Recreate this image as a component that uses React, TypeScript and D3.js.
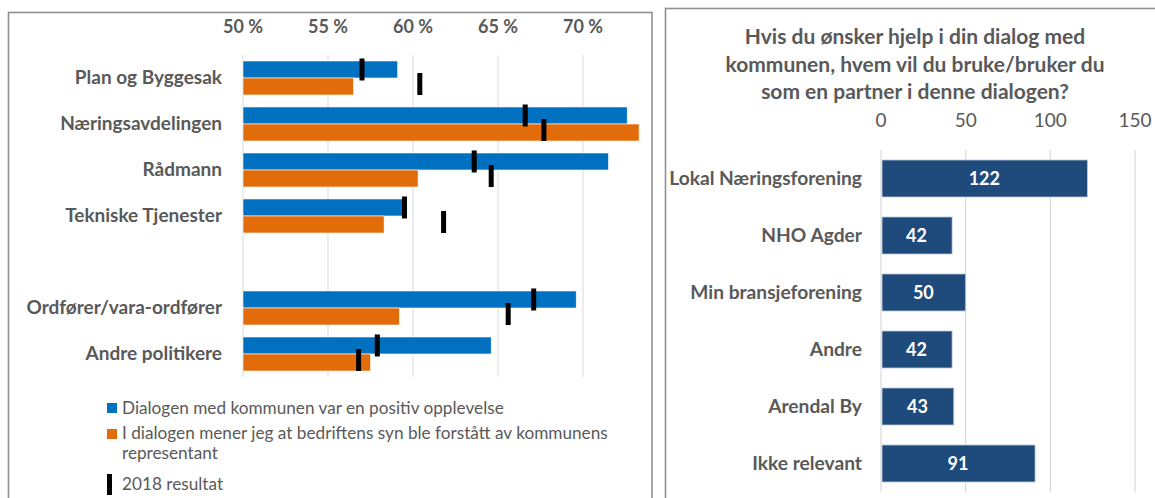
import React from "react";
import * as d3 from "d3";

// ---------- Left chart data ----------
const leftCategories = [
  "Plan og Byggesak",
  "Næringsavdelingen",
  "Rådmann",
  "Tekniske Tjenester",
  "",
  "Ordfører/vara-ordfører",
  "Andre politikere",
];
const positiveExperience = [0.591, 0.726, 0.715, 0.595, null, 0.696, 0.646];
const viewUnderstood = [0.565, 0.733, 0.603, 0.583, null, 0.592, 0.575];
const positive2018 = [0.570, 0.666, 0.636, 0.595, null, 0.671, 0.579];
const understood2018 = [0.604, 0.677, 0.646, 0.618, null, 0.656, 0.568];
const leftTicks = [0.5, 0.55, 0.6, 0.65, 0.7];
const legendLabels = [
  "Dialogen med kommunen var en positiv opplevelse",
  "I dialogen mener jeg at bedriftens syn ble forstått av kommunens",
  "representant",
  "2018 resultat",
];

// ---------- Right chart data ----------
const rightTitle = [
  "Hvis du ønsker hjelp i din dialog med",
  "kommunen, hvem vil du bruke/bruker du",
  "som en partner i denne dialogen?",
];
const rightCategories = [
  "Lokal Næringsforening",
  "NHO Agder",
  "Min bransjeforening",
  "Andre",
  "Arendal By",
  "Ikke relevant",
];
const rightValues = [122, 42, 50, 42, 43, 91];
const rightTicks = [0, 50, 100, 150];

const FONT = "Lato, 'Open Sans', sans-serif";
const TEXT = "#595959";
const GRID = "#d9d9d9";
const BLUE = "#0070C0";
const ORANGE = "#E36C0A";
const NAVY = "#1F4A7C";

export default function App() {
  // Left scales
  const xL = d3.scaleLinear().domain([0.5, 0.74]).range([243, 651]);
  const yL = d3
    .scaleBand<string>()
    .domain(leftCategories.map((c, i) => String(i)))
    .range([55, 377])
    .paddingInner(0.26)
    .paddingOuter(0.13);
  const bh = yL.bandwidth() / 2;

  // Right scales
  const xR = d3.scaleLinear().domain([0, 150]).range([881, 1135]);
  const yR = d3
    .scaleBand<string>()
    .domain(rightCategories)
    .range([150, 492])
    .paddingInner(0.35)
    .paddingOuter(0.175);

  const markerH = 22;
  const markerW = 5;
  const legendFs = 17.2;

  return (
    <svg
      width={1155}
      height={498}
      style={{ position: "absolute", left: 0, top: 0, background: "#fff" }}
      fontFamily={FONT}
    >
      {/* Panels */}
      <rect x={8.5} y={12.5} width={643.5} height={520} fill="#fff" stroke="#8f8f8f" strokeWidth={1.6} />
      <rect x={665.5} y={8.5} width={520} height={520} fill="#fff" stroke="#8f8f8f" strokeWidth={1.6} />

      {/* ---------- LEFT CHART ---------- */}
      {leftTicks.map((t) => (
        <g key={"lt" + t}>
          <line x1={xL(t)} x2={xL(t)} y1={55} y2={377} stroke={GRID} strokeWidth={1} />
          <text x={xL(t)} y={33} textAnchor="middle" fontSize={18} fontWeight="bold" fill={TEXT}>
            {Math.round(t * 100) + " %"}
          </text>
        </g>
      ))}
      {leftCategories.map((c, i) => {
        const y0 = yL(String(i)) as number;
        const p = positiveExperience[i];
        const u = viewUnderstood[i];
        const p18 = positive2018[i];
        const u18 = understood2018[i];
        return (
          <g key={"lc" + i}>
            {c && (
              <text x={222} y={y0 + bh} dy="0.33em" textAnchor="end" fontSize={19} fontWeight="bold" fill={TEXT}>
                {c}
              </text>
            )}
            {p != null && (
              <rect x={xL(0.5)} y={y0} width={xL(p) - xL(0.5)} height={bh} fill={BLUE} stroke="#ffffff" strokeWidth={0.6} />
            )}
            {u != null && (
              <rect x={xL(0.5)} y={y0 + bh} width={xL(u) - xL(0.5)} height={bh} fill={ORANGE} stroke="#ffffff" strokeWidth={0.6} />
            )}
            {p18 != null && (
              <rect x={xL(p18) - markerW / 2} y={y0 + bh / 2 - markerH / 2} width={markerW} height={markerH} fill="#000" />
            )}
            {u18 != null && (
              <rect x={xL(u18) - markerW / 2} y={y0 + bh * 1.5 - markerH / 2 - 2.5} width={markerW} height={markerH} fill="#000" />
            )}
          </g>
        );
      })}

      {/* Legend */}
      <rect x={107} y={403} width={10} height={10} fill={BLUE} />
      <text x={122} y={413.5} fontSize={legendFs} fill={TEXT}>{legendLabels[0]}</text>
      <rect x={107} y={429} width={10} height={10} fill={ORANGE} />
      <text x={122} y={439} fontSize={legendFs} fill={TEXT}>{legendLabels[1]}</text>
      <text x={122} y={459} fontSize={legendFs} fill={TEXT}>{legendLabels[2]}</text>
      <rect x={107} y={474} width={markerW} height={21} fill="#000" />
      <text x={122} y={489.5} fontSize={legendFs} fill={TEXT}>{legendLabels[3]}</text>

      {/* ---------- RIGHT CHART ---------- */}
      {rightTitle.map((line, i) => (
        <text key={"rt" + i} x={915} y={44 + i * 27.5} textAnchor="middle" fontSize={21} fontWeight="bold" fill={TEXT}>
          {line}
        </text>
      ))}
      {rightTicks.map((t) => (
        <g key={"rtk" + t}>
          <line x1={xR(t)} x2={xR(t)} y1={150} y2={492} stroke={GRID} strokeWidth={1.2} />
          <text x={xR(t)} y={127} textAnchor="middle" fontSize={19} fill={TEXT}>
            {t}
          </text>
        </g>
      ))}
      {rightCategories.map((c, i) => {
        const y0 = yR(c) as number;
        const bw = yR.bandwidth();
        const v = rightValues[i];
        return (
          <g key={"rc" + i}>
            <text x={862} y={y0 + bw / 2} dy="0.33em" textAnchor="end" fontSize={19.2} fontWeight="bold" fill={TEXT}>
              {c}
            </text>
            <rect x={xR(0) + 1} y={y0} width={xR(v) - xR(0) - 1} height={bw} fill={NAVY} stroke="#c8d2de" strokeWidth={0.8} />
            <text x={(xR(0) + xR(v)) / 2} y={y0 + bw / 2} dy="0.35em" textAnchor="middle" fontSize={18} fontWeight="bold" fill="#fff">
              {v}
            </text>
          </g>
        );
      })}
    </svg>
  );
}
